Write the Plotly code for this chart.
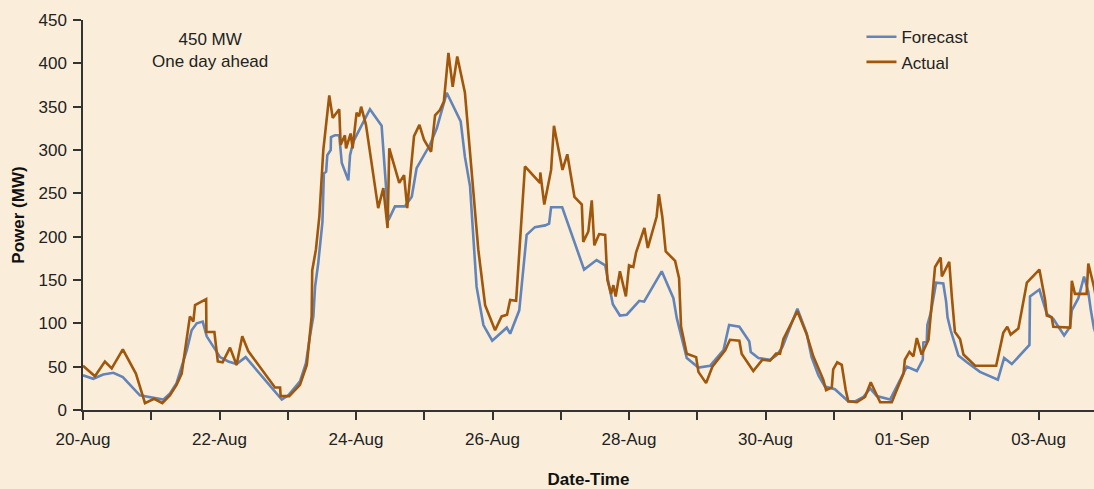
import pandas as pd
import plotly.graph_objects as go

# Hours after 20-Aug 00:00 and power in MW
START = pd.Timestamp("2013-08-20")

forecast_hours = [
    0, 3.6, 7.1, 10.7, 14.0, 20.0, 28.2, 30.6, 32.9, 36.5, 38.2, 40.0, 42.1, 43.5,
    48.2, 51.1, 54.0, 57.2, 69.9, 72.2, 76.3, 78.4, 79.8, 81.0, 81.6, 82.7, 84.2,
    84.7, 85.5, 85.9, 87.1, 87.2, 88.6, 90.1, 91.0, 93.3, 93.9, 95.1, 96.8, 100.9,
    105.0, 106.2, 107.4, 109.7, 113.2, 115.6, 117.3, 122.0, 124.4, 127.9, 132.8,
    134.3, 136.1, 138.4, 140.8, 143.9, 149.0, 150.2, 153.4, 156.0, 158.9, 162.5,
    163.9, 164.6, 168.5, 176.2, 180.6, 183.6, 186.3, 188.8, 191.2, 195.6, 197.3,
    203.5, 207.6, 208.8, 212.3, 216.4, 220.5, 225.2, 227.2, 230.8, 234.3, 234.8,
    237.5, 241.6, 243.9, 246.0, 251.2, 254.5, 256.2, 258.6, 260.9, 264.4, 269.1,
    271.5, 274.4, 276.8, 279.1, 283.8, 288.5, 289.7, 293.2, 295.3, 295.5, 296.7,
    296.9, 298.1, 300.0, 302.5, 303.5, 304.0, 305.1, 307.8, 310.8, 315.4, 321.7,
    323.9, 326.6, 332.8, 333.0, 336.3, 338.9, 341.2, 345.0, 347.1, 347.7, 350.0,
    352.0, 353.5, 354.4, 355.5, 357.0,
]
forecast_mw = [
    40, 36, 41, 43, 38, 17, 12, 19, 31, 69, 92, 100, 102, 85,
    61, 56, 53, 61, 12, 17, 33, 54, 85, 108, 142, 169, 217,
    273, 275, 294, 300, 315, 317, 317, 285, 265, 294, 310, 321, 347,
    328, 273, 219, 235, 235, 246, 279, 306, 325, 366, 333,
    292, 258, 142, 98, 80, 95, 88, 115, 202, 211, 213,
    215, 234, 234, 162, 173, 167, 122, 109, 110, 126, 125,
    160, 129, 106, 60, 49, 51, 69, 98, 96, 79, 67,
    60, 58, 63, 73, 117, 88, 61, 40, 27, 24, 10,
    10, 15, 25, 16, 12, 42, 50, 45, 58, 78, 79,
    98, 112, 147, 146, 125, 107, 92, 63, 55, 44, 35,
    60, 53, 75, 131, 139, 111, 105, 86, 96, 115, 129,
    154, 136, 115, 94, 80,
]

actual_hours = [
    0, 4.2, 7.7, 10.1, 14.0, 18.6, 21.8, 25.0, 27.9, 30.6, 32.9, 34.7, 37.6, 38.8,
    39.4, 43.3, 43.4, 46.2, 47.4, 49.1, 51.7, 54.0, 56.0, 58.1, 67.5, 69.3, 69.5,
    72.5, 76.3, 78.7, 80.4, 80.6, 81.9, 83.1, 84.5, 86.6, 87.8, 90.1, 90.6, 92.1,
    92.5, 94.1, 94.8, 96.2, 97.1, 97.8, 99.5, 103.8, 105.6, 107.1, 107.7, 111.2,
    112.9, 114.0, 116.4, 118.3, 119.9, 122.4, 123.8, 125.5, 126.9, 128.5, 130.0,
    131.6, 134.3, 136.7, 139.0, 141.4, 144.9, 147.2, 149.1, 150.2, 152.3, 155.4,
    160.7, 160.8, 162.2, 164.6, 165.6, 168.6, 170.3, 172.8, 175.4, 175.9, 177.7,
    178.9, 179.8, 181.5, 183.6, 184.4, 185.7, 186.5, 187.3, 188.8, 190.9, 192.0,
    193.5, 194.5, 197.4, 198.6, 201.7, 202.5, 203.7, 204.9, 208.2, 209.6, 210.3,
    212.3, 215.6, 216.4, 219.1, 221.3, 225.8, 227.5, 230.8, 231.6, 235.7, 238.9,
    241.6, 243.7, 245.1, 246.3, 251.2, 254.5, 256.8, 260.3, 261.3, 263.3, 263.8,
    265.2, 266.8, 268.2, 269.1, 272.1, 275.0, 277.0, 280.3, 284.4, 288.5, 289.0,
    290.6, 292.0, 293.2, 294.9, 297.3, 299.6, 301.6, 302.0, 304.6, 305.5, 306.6,
    308.4, 309.6, 313.7, 321.1, 323.6, 325.0, 326.2, 328.9, 330.1, 331.9, 336.3,
    338.3, 338.9, 340.6, 341.2, 347.1, 347.7, 348.8, 352.9, 353.5, 355.5, 357.0,
]
actual_mw = [
    51, 39, 56, 48, 70, 42, 8, 13, 8, 17, 29, 42, 108, 102,
    121, 128, 90, 90, 56, 55, 72, 52, 85, 68, 26, 26, 16,
    16, 29, 52, 108, 161, 185, 223, 300, 363, 337, 347, 306, 317,
    302, 319, 302, 343, 339, 350, 329, 233, 256, 210, 302, 262,
    271, 233, 316, 329, 312, 298, 340, 346, 356, 412, 373,
    408, 366, 273, 185, 121, 92, 108, 110, 127, 126, 281,
    262, 274, 237, 277, 328, 277, 295, 246, 237, 194, 206,
    242, 190, 203, 202, 150, 134, 144, 131, 160, 131, 167,
    165, 182, 210, 187, 223, 249, 223, 183, 172, 152, 96,
    65, 61, 44, 31, 50, 69, 81, 80, 65, 45, 58,
    57, 65, 65, 82, 114, 87, 62, 35, 23, 26, 47,
    55, 52, 23, 10, 9, 15, 32, 9, 9, 42, 58,
    67, 62, 83, 64, 81, 165, 176, 154, 171, 131, 90,
    82, 64, 51, 51, 89, 96, 87, 94, 115, 147, 162,
    127, 109, 107, 96, 95, 149, 134, 134, 169, 142, 115,
]

tick_days = pd.date_range("2013-08-20", "2013-09-03", freq="D")
tick_labels = [
    "20-Aug", "", "22-Aug", "", "24-Aug", "", "26-Aug", "", "28-Aug", "",
    "30-Aug", "", "01-Sep", "", "03-Aug",
]

forecast_t = START + pd.to_timedelta(forecast_hours, unit="h")
actual_t = START + pd.to_timedelta(actual_hours, unit="h")

BG = "#FAEEDA"
FONT = "Liberation Sans, Arial, sans-serif"

fig = go.Figure()
fig.add_trace(go.Scatter(
    x=forecast_t, y=forecast_mw, name="Forecast", mode="lines",
    line=dict(color="#6384B8", width=2.6),
))
fig.add_trace(go.Scatter(
    x=actual_t, y=actual_mw, name="Actual", mode="lines",
    line=dict(color="#A0560B", width=2.6),
))

fig.add_annotation(
    text="450 MW<br>One day ahead",
    xref="paper", yref="paper", x=0.126, y=0.923,
    xanchor="center", yanchor="middle",
    showarrow=False, align="center",
    font=dict(family=FONT, size=17, color="#222222"),
)

fig.update_xaxes(
    range=[START, START + pd.Timedelta(hours=355.5)],
    tickvals=tick_days, ticktext=tick_labels,
    ticks="outside", ticklen=8, tickwidth=1.5, tickcolor="#333333",
    ticklabelstandoff=5,
    showline=True, linecolor="#333333", linewidth=1.5,
    showgrid=False, zeroline=False,
    tickfont=dict(family=FONT, size=17, color="#222222"),
    title=dict(text="<b>Date-Time</b>", standoff=26,
               font=dict(family=FONT, size=17, color="#111111")),
)
fig.update_yaxes(
    range=[0, 450], dtick=50,
    ticks="outside", ticklen=8, tickwidth=1.5, tickcolor="#333333",
    ticklabelstandoff=3,
    showline=True, linecolor="#333333", linewidth=1.5,
    showgrid=False, zeroline=False,
    tickfont=dict(family=FONT, size=17, color="#222222"),
    title=dict(text="<b>Power (MW)</b>", standoff=10,
               font=dict(family=FONT, size=17, color="#111111")),
)

fig.update_layout(
    width=1094, height=489,
    margin=dict(l=83, r=0, t=20, b=79),
    paper_bgcolor=BG, plot_bgcolor=BG,
    font=dict(family=FONT),
    showlegend=True,
    legend=dict(
        x=0.77, y=1.002, xanchor="left", yanchor="top",
        bgcolor="rgba(0,0,0,0)",
        font=dict(family=FONT, size=17, color="#222222"),
        tracegroupgap=0,
    ),
)

fig.write_html(
    "out.html",
    config={"displayModeBar": False},
    post_script="document.body.style.margin='0';",
)
